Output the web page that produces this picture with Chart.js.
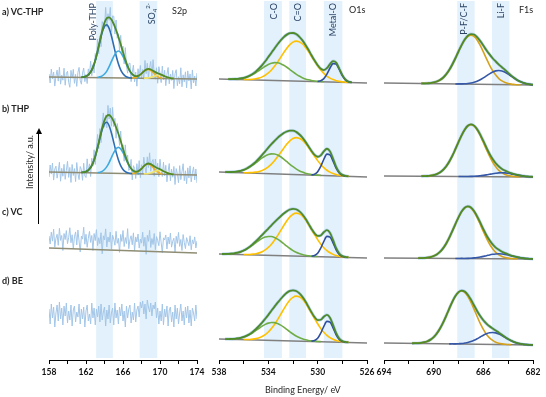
<!DOCTYPE html>
<html>
<head>
<meta charset="utf-8">
<script src="https://cdn.jsdelivr.net/npm/chart.js@4.4.0/dist/chart.umd.min.js"></script>
<style>
  body { margin: 0; background: #fff; width: 546px; height: 397px; position: relative; overflow: hidden; font-family: Lato, "Open Sans", sans-serif; }
  canvas { position: absolute; left: 0; top: 0; }
  .t { position: absolute; font-size: 9px; line-height: 11px; color: #262626; white-space: nowrap; }
  .row { font-weight: bold; }
  .vt { position: absolute; writing-mode: vertical-rl; transform: rotate(180deg); font-size: 9px; line-height: 11px; white-space: nowrap; }
  .band { color: #2b4466; }
  .vt sub, .vt sup { font-size: 6px; }
</style>
</head>
<body>
<canvas id="s2p" width="546" height="397"></canvas>
<canvas id="o1s" width="546" height="397"></canvas>
<canvas id="f1s" width="546" height="397"></canvas>

<div class="t row" style="left:2px;top:6px">a) VC-THP</div>
<div class="t row" style="left:2px;top:103px">b) THP</div>
<div class="t row" style="left:2px;top:206px">c) VC</div>
<div class="t row" style="left:2px;top:275px">d) BE</div>

<div class="t" style="left:172px;top:5px">S2p</div>
<div class="t" style="left:349px;top:4px">O1s</div>
<div class="t" style="left:519px;top:4px">F1s</div>

<div class="vt band" style="left:87px;top:3px">Poly-THP</div>
<div class="vt band" style="left:142px;top:3px">SO<sub>4</sub><sup>2-</sup></div>
<div class="vt band" style="left:268px;top:3px">C-O</div>
<div class="vt band" style="left:292px;top:3px">C=O</div>
<div class="vt band" style="left:327px;top:3px">Metal-O</div>
<div class="vt band" style="left:458px;top:3px">P-F/C-F</div>
<div class="vt band" style="left:495px;top:3px">Li-F</div>

<div class="vt" style="left:24px;top:135px;color:#262626">Intensity/ a.u.</div>
<div style="position:absolute;left:38px;top:133px;width:0;height:91px;border-left:1px solid #000"></div>
<div style="position:absolute;left:35.5px;top:128px;width:0;height:0;border-left:3px solid transparent;border-right:3px solid transparent;border-bottom:6px solid #000"></div>

<div class="t" style="left:265px;top:384px">Binding Energy/ eV</div>

<script>
const STEP = 0.25;       // fit grid
const RAW_STEP = 0.125;  // measured S2p grid

// ---------- S2p ----------
const s2pRange = [158, 174];
const s2pTicks = [158, 162, 166, 170, 174];
const s2pBands = [[163.1, 164.9], [167.8, 169.7]];
// background [at low BE, at high BE]
const s2pBg = [[2, 0], [3, 0], [5, 0], null];
// component start energies: poly-THP 2p3/2, 2p1/2, sulfate 2p3/2, 2p1/2
const s2pFrom = [161.5, 163.25, 167.0, 168.25];
const s2pDarkA = [0.2, 0.5, 1.2, 2.7, 5.5, 10.2, 17.2, 26.2, 36.1, 45.3, 51.4, 52.9, 49.4, 41.9, 32.1, 22.4, 14.2, 8.1, 4.2, 2, 0.8, 0.3, 0];
const s2pLightA = [0.3, 0.8, 1.8, 3.7, 6.7, 11.1, 16.4, 21.6, 25.5, 27, 25.5, 21.6, 16.4, 11.1, 6.7, 3.7, 1.8, 0.8, 0.3];
const s2pOrangeA = [0.2, 0.5, 1.2, 2.6, 4.6, 6.8, 8.5, 9, 7.9, 5.9, 3.7, 1.9, 0.9, 0.3];
const s2pYellowA = [0.1, 0.2, 0.5, 1, 1.8, 2.6, 3.3, 3.5, 3.1, 2.3, 1.4, 0.8, 0.3, 0.1];
const s2pDarkB = [0.2, 0.5, 1.2, 2.6, 5.3, 9.8, 16.5, 25.2, 34.7, 43.6, 49.4, 50.9, 47.5, 40.3, 30.9, 21.5, 13.7, 7.8, 4, 1.9, 0.8, 0.3, 0];
const s2pLightB = [0.3, 0.8, 1.7, 3.6, 6.5, 10.7, 15.8, 20.8, 24.6, 26, 24.6, 20.8, 15.8, 10.7, 6.5, 3.6, 1.7, 0.8, 0.3];
const s2pOrangeB = [0.2, 0.6, 1.3, 2.9, 5.1, 7.6, 9.5, 10, 8.8, 6.6, 4.1, 2.2, 1, 0.3];
const s2pYellowB = [0.1, 0.2, 0.5, 1.1, 2, 3, 3.8, 4, 3.5, 2.6, 1.6, 0.9, 0.4, 0.1];
// measured counts minus fit, every 0.125 eV from 158 to 174
const s2pNoiseA = [3,-6,8,-2,5,-9,1,7,-4,10,-7,2,-3,9,-8,4,6,-5,-10,7,
  -1,8,-6,3,-9,5,10,-3,-7,4,9,-5,2,-8,6,-2,11,-6,3,-9,
  7,-4,12,-8,5,-11,9,2,-6,13,-9,4,-3,11,-12,6,8,-7,10,-5,
  3,-10,9,-4,6,-8,12,-3,-7,5,8,-9,2,10,-6,4,-10,7,-2,9,
  -5,3,-8,10,-4,6,-9,2,8,-6,11,-3,-7,5,-10,7,1,-8,9,-4,
  6,-9,3,10,-6,4,-2,8,-10,5,9,-7,2,-5,11,-8,4,-3,7,-9,
  8,-2,5,-10,9,-4,3,-7,6];
const s2pNoiseB = [-5,7,-2,9,-8,3,6,-6,1,10,-9,4,-4,8,-7,2,11,-5,5,-10,
  8,-3,4,-9,10,-1,-7,6,3,-8,9,-4,-6,12,-2,5,-9,7,-3,10,
  -8,4,13,-6,9,-10,5,11,-7,3,-12,10,-4,8,-9,12,-5,6,-11,7,
  2,-8,10,-5,4,-9,11,-3,7,-6,-2,9,-10,5,3,-7,8,-4,10,-8,
  4,-6,9,-2,-9,7,-4,11,-7,3,6,-10,8,-3,5,-8,10,-1,-6,9,
  -4,7,-9,2,10,-7,5,-3,8,-10,6,1,-8,9,-5,3,11,-6,4,-9,
  7,-3,9,-7,2,8,-5,6,-8];
const s2pNoiseC = [12,4,16,7,19,1,10,14,3,20,8,13,-2,15,9,18,5,11,21,6,
  14,0,12,17,4,19,8,-3,13,10,22,5,15,2,11,18,7,14,-1,16,
  9,20,4,12,6,17,-4,14,10,21,3,13,8,18,1,15,11,5,19,7,
  12,-2,16,9,20,4,13,7,22,2,11,15,6,18,0,14,9,17,3,12,
  8,19,5,14,-3,16,10,21,4,13,7,18,2,15,11,6,20,9,-1,14,
  12,17,3,15,8,19,5,11,14,0,16,9,20,6,13,2,18,10,4,15,
  11,7,17,3,13,9,16,5,12];
const s2pNoiseD = [6,-9,11,-3,8,-12,2,10,-6,13,-4,7,-10,9,-1,12,-8,4,-5,10,
  -11,5,9,-7,3,-2,11,-9,6,-4,8,-12,4,10,-6,1,-9,12,-3,7,
  -10,6,-2,9,-7,11,-5,3,8,-11,5,-4,10,-8,2,7,-10,12,-3,5,
  -9,8,-1,11,-6,4,-12,9,-3,6,10,-8,3,-5,12,-7,5,9,-2,13,
  7,14,1,11,-4,15,8,3,12,-1,10,6,13,-3,7,-9,4,-6,11,-10,
  6,-2,9,-11,5,8,-7,3,-12,10,-4,7,-9,2,11,-6,4,-10,8,-3,
  9,-8,5,-11,7,2,-6,10,-4];

// ---------- O1s ----------
const o1sRange = [526, 538];
const o1sTicks = [538, 534, 530, 526];
const o1sBands = [[532.9, 534.35], [530.95, 532.3], [528.0, 529.5]];
const o1sBg = [[0, 4], [0, 5], [0, 4], [0, 4]];
// start energies per row: C=O, C-O, metal-O
const o1sFrom = [[527.5, 529.5, 527.25], [527.5, 529.75, 527.75], [527.5, 530.0, 527.75], [527.5, 529.75, 527.75]];
const o1sYellowA = [0.1,0.3,0.5,0.9,1.5,2.5,3.9,5.9,8.5,11.8,15.9,20.4,25.2,30,34.2,37.5,39.5,40,38.9,36.3,32.6,28.1,23.3,18.5,14.2,10.4,7.4,5,3.3,2,1.2,0.7,0.4,0.2,0.1];
const o1sYellowB = [0.1,0.3,0.5,0.8,1.4,2.3,3.6,5.4,7.9,11,14.7,18.9,23.4,27.7,31.6,34.7,36.5,37,36,33.6,30.2,26,21.5,17.2,13.1,9.7,6.8,4.6,3,1.9,1.1,0.7,0.4,0.2,0.1];
const o1sYellowC = [0.2,0.3,0.5,1,1.6,2.7,4.2,6.3,9.1,12.7,17.1,21.9,27.1,32.2,36.8,40.3,42.4,43,41.8,39,35,30.2,25,20,15.3,11.2,7.9,5.4,3.5,2.2,1.3,0.8,0.4,0.2,0.1];
const o1sYellowD = [0.2,0.3,0.6,1,1.7,2.8,4.4,6.6,9.6,13.3,17.9,23,28.4,33.7,38.5,42.2,44.4,45,43.7,40.9,36.7,31.6,26.2,20.9,16,11.8,8.3,5.6,3.7,2.3,1.4,0.8,0.4,0.2,0.1];
const o1sGreenA = [0.1,0.2,0.3,0.6,1,1.6,2.4,3.6,5.1,7,9.1,11.4,13.6,15.5,17,17.9,17.9,17.2,15.9,14,11.8,9.6,7.4,5.5,3.9,2.6,1.7,1.1,0.6,0.4,0.2,0.1];
const o1sGreenB = [0.1,0.2,0.4,0.6,1.1,1.7,2.7,4,5.7,7.8,10.1,12.6,15.1,17.3,18.9,19.8,19.9,19.2,17.6,15.6,13.1,10.6,8.2,6.1,4.3,2.9,1.9,1.2,0.7,0.4,0.2,0.1];
const o1sGreenC = [0.1,0.2,0.3,0.6,1,1.7,2.6,3.8,5.4,7.4,9.6,12,14.4,16.4,18,18.9,18.9,18.2,16.8,14.8,12.5,10.1,7.8,5.8,4.1,2.8,1.8,1.1,0.7,0.4,0.2,0.1];
const o1sGreenD = [0.1,0.2,0.3,0.6,1,1.6,2.4,3.6,5.1,7,9.1,11.4,13.6,15.5,17,17.9,17.9,17.2,15.9,14,11.8,9.6,7.4,5.5,3.9,2.6,1.7,1.1,0.6,0.4,0.2,0.1];
const o1sBlueA = [0.2,0.7,2.6,6.7,12.8,18,18.5,14,7.8,3.2,1,0.2];
const o1sBlueB = [0.2,0.8,3,7.7,14.8,20.8,21.5,16.3,9,3.7,1.1,0.2];
const o1sBlueC = [0.2,0.8,2.8,7.4,14.2,19.9,20.5,15.5,8.6,3.5,1.1,0.2];
const o1sBlueD = [0.2,0.8,2.8,7.4,14.2,19.9,20.5,15.5,8.6,3.5,1.1,0.2];

// ---------- F1s ----------
const f1sRange = [682, 694];
const f1sTicks = [694, 690, 686, 682];
const f1sBands = [[686.7, 688.1], [683.9, 685.3]];
const f1sBg = [[0, 2], [0, 1], [0, 1], [0, 2]];
// start energies per row: P-F/C-F, Li-F
const f1sFrom = [[683.0, 681.25], [683.0, 681.0], [683.25, 681.25], [683.75, 681.75]];
const f1sYellowA = [0.1,0.1,0.3,0.6,1.2,2.2,3.7,6,9.4,13.8,19.4,25.7,32.4,38.8,44.2,47.8,49,47.8,44.2,38.8,32.4,25.7,19.4,13.8,9.4,6,3.7,2.2,1.2,0.6,0.3,0.1,0.1];
const f1sYellowB = [0.1,0.2,0.3,0.7,1.3,2.3,3.9,6.4,10,14.7,20.5,27.3,34.4,41.2,46.9,50.7,52,50.7,46.9,41.2,34.4,27.3,20.5,14.7,10,6.4,3.9,2.3,1.3,0.7,0.3,0.2,0.1];
const f1sYellowC = [0.1,0.2,0.3,0.7,1.3,2.3,3.9,6.4,10,14.7,20.5,27.3,34.4,41.2,46.9,50.7,52,50.7,46.9,41.2,34.4,27.3,20.5,14.7,10,6.4,3.9,2.3,1.3,0.7,0.3,0.2,0.1];
const f1sYellowD = [0.1,0.2,0.3,0.7,1.3,2.3,4,6.5,10.2,15,20.9,27.8,35.1,42,47.8,51.6,53,51.6,47.8,42,35.1,27.8,20.9,15,10.2,6.5,4,2.3,1.3,0.7,0.3,0.2,0.1];
const f1sBlueA = [0,0.1,0.2,0.3,0.6,1.1,1.9,3,4.5,6.4,8.5,10.6,12.4,13.6,14,13.6,12.4,10.6,8.5,6.4,4.5,3,1.9,1.1,0.6,0.3,0.2,0.1,0];
const f1sBlueB = [0,0,0,0.1,0.2,0.3,0.5,0.9,1.3,1.8,2.4,3,3.5,3.9,4,3.9,3.5,3,2.4,1.8,1.3,0.9,0.5,0.3,0.2,0.1,0,0,0];
const f1sBlueC = [0,0,0.1,0.1,0.2,0.4,0.7,1.1,1.6,2.3,3,3.8,4.4,4.8,5,4.8,4.4,3.8,3,2.3,1.6,1.1,0.7,0.4,0.2,0.1,0.1,0,0];
const f1sBlueD = [0,0.1,0.1,0.3,0.5,1,1.6,2.6,3.9,5.5,7.3,9.1,10.6,11.6,12,11.6,10.6,9.1,7.3,5.5,3.9,2.6,1.6,1,0.5,0.3,0.1,0.1,0];

// layout: chart area x-extent and row base heights (chart units, 1 unit = 1px)
const AREA = { s2p: [49, 197], o1s: [219, 367], f1s: [384, 533] };
const BASE = { s2p: [281, 185, 107, 45], o1s: [277, 183, 102, 17], f1s: [275, 183, 101, 15] };

const C = {
  raw: '#a3c6e8', halo: '#b5d3ef', base: '#808080', baseS: '#8f8d74', env: '#4e8a2a',
  dark: '#2e6db2', light: '#3eaadf', orange: '#f1ae1c', ylight: '#f1e36a',
  oy: '#ffc000', og: '#70ad47', ob: '#2f4f9e', fy: '#d4a21c', fb: '#3558a8',
  band: '#e2f1fb'
};

Chart.defaults.font.family = 'Lato, "Open Sans", sans-serif';

const bgAt = (bg, e, range) => bg ? bg[0] + (bg[1] - bg[0]) * (e - range[0]) / (range[1] - range[0]) : 0;

// fit value at a grid energy
function fitAt(comps, e) {
  let s = 0;
  comps.forEach(c => {
    const k = Math.round((e - c.from) / STEP);
    if (k >= 0 && k < c.vals.length) s += c.vals[k];
  });
  return s;
}
// fit value between grid energies (for the finer measured grid)
function fitBetween(comps, e) {
  const lo = Math.floor(e / STEP + 1e-9) * STEP;
  const t = (e - lo) / STEP;
  return t < 1e-6 ? fitAt(comps, lo) : (1 - t) * fitAt(comps, lo) + t * fitAt(comps, lo + STEP);
}

const smooth = (data, color, width) => ({ data, borderColor: color, borderWidth: width, pointRadius: 0, fill: false, cubicInterpolationMode: 'monotone' });
const jagged = (data, color, width) => ({ data, borderColor: color, borderWidth: width, pointRadius: 0, fill: false, tension: 0 });

// build datasets, bottom layer first
function rowSets(range, base, bg, comps, noise, baseColor) {
  const sets = [];
  let start = range[0], end = range[1];
  if (comps.length) {
    start = Math.min(...comps.map(c => c.from));
    end = Math.max(...comps.map(c => c.from + (c.vals.length - 1) * STEP));
  }
  const env = [];
  for (let e = start; e <= end + 1e-9; e += STEP) {
    env.push({ x: +e.toFixed(3), y: base + bgAt(bg, e, range) + fitAt(comps, e) });
  }
  if (noise) {
    const raw = noise.map((n, i) => {
      const e = range[0] + i * RAW_STEP;
      return { x: e, y: base + bgAt(bg, e, range) + fitBetween(comps, e) + n };
    });
    sets.push(jagged(raw, C.raw, 1));
  } else if (comps.length) {
    sets.push(smooth(env, C.halo, 3));
  }
  if (bg) sets.push(jagged([{ x: range[0], y: base + bg[0] }, { x: range[1], y: base + bg[1] }], baseColor, 1.6));
  comps.forEach(c => {
    sets.push(smooth(c.vals.map((v, k) => {
      const e = c.from + k * STEP;
      return { x: e, y: base + bgAt(bg, e, range) + v };
    }), c.color, 1.6));
  });
  if (comps.length) sets.push(smooth(env, C.env, 1.8));
  return sets;
}

const bandPlugin = {
  id: 'bands',
  beforeDatasetsDraw(chart, args, opts) {
    const { ctx, chartArea, scales: { x } } = chart;
    ctx.save();
    ctx.fillStyle = C.band;
    opts.list.forEach(([a, b]) => {
      const x1 = x.getPixelForValue(a), x2 = x.getPixelForValue(b);
      ctx.fillRect(Math.min(x1, x2), chartArea.top + 1, Math.abs(x2 - x1), chartArea.bottom - chartArea.top - 3);
    });
    ctx.restore();
  }
};

function makePanel(id, range, ticks, bands, reverse, sets) {
  const area = AREA[id];
  new Chart(document.getElementById(id), {
    type: 'line',
    data: { datasets: sets.reverse() },
    options: {
      responsive: false,
      animation: false,
      events: [],
      layout: { padding: { left: area[0], right: 546 - area[1], top: 0, bottom: 0 } },
      plugins: { legend: { display: false }, tooltip: { enabled: false }, bands: { list: bands } },
      scales: {
        x: {
          type: 'linear', min: range[0], max: range[1], reverse,
          border: { color: '#000', width: 1 },
          grid: { drawOnChartArea: false, tickLength: 4, color: '#000' },
          ticks: {
            stepSize: 2, autoSkip: false, maxRotation: 0, padding: 3, color: '#111',
            font: { size: 8.5, weight: 'bold' },
            callback: v => ticks.includes(v) ? String(v) : ''
          },
          afterFit: s => { s.height = 37; }
        },
        y: { display: false, min: 0, max: 360 }
      }
    },
    plugins: [bandPlugin]
  });
}

// S2p
const s2pRows = [
  [[s2pDarkA, C.dark], [s2pLightA, C.light], [s2pOrangeA, C.orange], [s2pYellowA, C.ylight]],
  [[s2pDarkB, C.dark], [s2pLightB, C.light], [s2pOrangeB, C.orange], [s2pYellowB, C.ylight]],
  [], []
];
const s2pNoise = [s2pNoiseA, s2pNoiseB, s2pNoiseC, s2pNoiseD];
let sets = [];
s2pRows.forEach((row, r) => {
  const comps = row.map(([vals, color], j) => ({ from: s2pFrom[j], vals, color }));
  sets = sets.concat(rowSets(s2pRange, BASE.s2p[r], s2pBg[r], comps, s2pNoise[r], C.baseS));
});
makePanel('s2p', s2pRange, s2pTicks, s2pBands, false, sets);

// O1s
const o1sRows = [
  [o1sYellowA, o1sGreenA, o1sBlueA], [o1sYellowB, o1sGreenB, o1sBlueB],
  [o1sYellowC, o1sGreenC, o1sBlueC], [o1sYellowD, o1sGreenD, o1sBlueD]
];
sets = [];
o1sRows.forEach((row, r) => {
  const colors = [C.oy, C.og, C.ob];
  const comps = row.map((vals, j) => ({ from: o1sFrom[r][j], vals, color: colors[j] }));
  sets = sets.concat(rowSets(o1sRange, BASE.o1s[r], o1sBg[r], comps, null, C.base));
});
makePanel('o1s', o1sRange, o1sTicks, o1sBands, true, sets);

// F1s
const f1sRows = [[f1sYellowA, f1sBlueA], [f1sYellowB, f1sBlueB], [f1sYellowC, f1sBlueC], [f1sYellowD, f1sBlueD]];
sets = [];
f1sRows.forEach((row, r) => {
  const colors = [C.fy, C.fb];
  const comps = row.map((vals, j) => ({ from: f1sFrom[r][j], vals, color: colors[j] }));
  sets = sets.concat(rowSets(f1sRange, BASE.f1s[r], f1sBg[r], comps, null, C.base));
});
makePanel('f1s', f1sRange, f1sTicks, f1sBands, true, sets);
</script>
</body>
</html>
